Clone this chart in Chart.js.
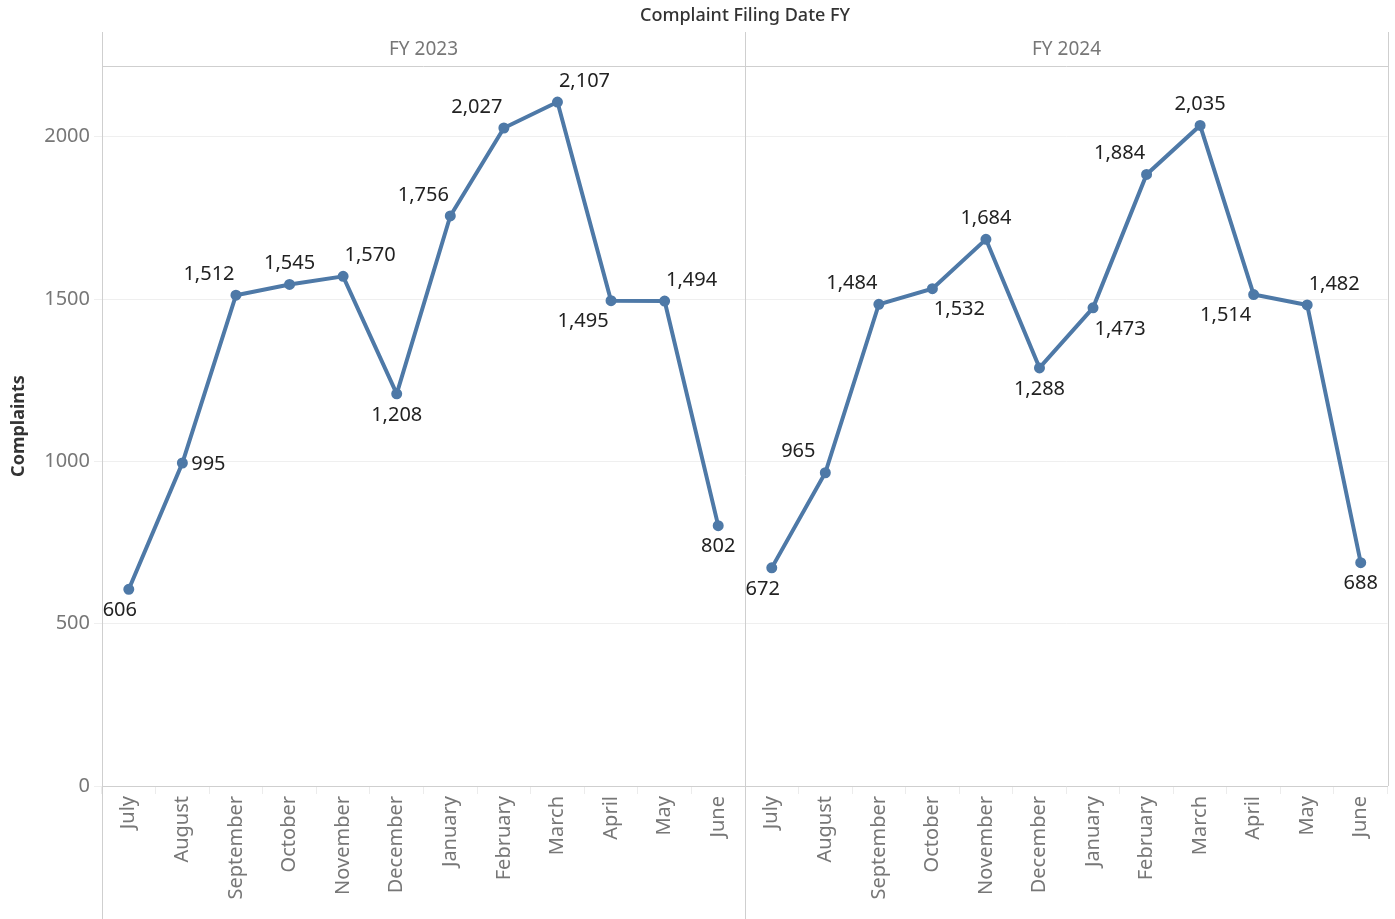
<!DOCTYPE html>
<html>
<head>
<meta charset="utf-8">
<script src="https://cdn.jsdelivr.net/npm/chart.js@4"></script>
<style>
  body { margin: 0; background: #fff; }
  #wrap { position: relative; width: 1395px; height: 919px; }
  canvas { position: absolute; left: 0; top: 0; }
</style>
</head>
<body>
<div id="wrap">
  <canvas id="left" width="1395" height="919"></canvas>
  <canvas id="right" width="1395" height="919"></canvas>
</div>
<script>
// --- data ---
const months = ['July', 'August', 'September', 'October', 'November', 'December',
                'January', 'February', 'March', 'April', 'May', 'June'];
const fy2023 = [606, 995, 1512, 1545, 1570, 1208, 1756, 2027, 2107, 1495, 1494, 802];
const fy2024 = [672, 965, 1484, 1532, 1684, 1288, 1473, 1884, 2035, 1514, 1482, 688];
const panelNames = ['FY 2023', 'FY 2024'];
const yMax = 2218;
const yStep = 500;

// where each value label sits relative to its point
const place2023 = ['bL', 'r', 'al', 'a', 'ar', 'b', 'al', 'al', 'ar', 'bl', 'ar', 'b'];
const place2024 = ['bL', 'al', 'al', 'br', 'a', 'b', 'br', 'al', 'a', 'bl', 'ar', 'b'];

const BLUE = '#4e79a7';
const FONT = '"Noto Sans", "Open Sans", sans-serif';

// layout (pixels)
const PLOT_TOP = 66;
const PLOT_BOTTOM = 786;
const LEFT_X = 102;
const MID_X = 745;
const RIGHT_X = 1388;
const H = 919;

const offsets = {
    a: [0, -21], b: [0, 21], r: [26, 1],
    al: [-27, -21], ar: [27, -21], bl: [-28, 21], br: [27, 21],
    bL: [-9, 21]
};

const valueLabels = {
    id: 'valueLabels',
    afterDatasetsDraw(chart, args, opts) {
        const ctx = chart.ctx;
        const meta = chart.getDatasetMeta(0);
        const values = chart.data.datasets[0].data;
        ctx.save();
        ctx.font = '20px ' + FONT;
        ctx.fillStyle = '#222';
        ctx.textAlign = 'center';
        ctx.textBaseline = 'middle';
        meta.data.forEach((pt, i) => {
            const o = offsets[opts.place[i]] || [0, -21];
            ctx.fillText(values[i].toLocaleString('en-US'), pt.x + o[0], pt.y + o[1]);
        });
        ctx.restore();
    }
};

const frame = {
    id: 'frame',
    afterDraw(chart) {
        const ctx = chart.ctx;
        ctx.save();
        ctx.strokeStyle = '#cfcfcf';
        ctx.lineWidth = 1;
        ctx.beginPath();
        ctx.moveTo(LEFT_X + 0.5, 32); ctx.lineTo(LEFT_X + 0.5, H);
        ctx.moveTo(MID_X + 0.5, 32); ctx.lineTo(MID_X + 0.5, H);
        ctx.moveTo(RIGHT_X + 0.5, 32); ctx.lineTo(RIGHT_X + 0.5, PLOT_BOTTOM);
        ctx.moveTo(LEFT_X, PLOT_TOP + 0.5); ctx.lineTo(RIGHT_X, PLOT_TOP + 0.5);
        ctx.stroke();

        ctx.textAlign = 'center';
        ctx.textBaseline = 'middle';
        ctx.fillStyle = '#333';
        ctx.font = '500 18px ' + FONT;
        ctx.fillText('Complaint Filing Date FY', (LEFT_X + RIGHT_X) / 2, 16);

        ctx.fillStyle = '#777';
        ctx.font = '19px ' + FONT;
        ctx.fillText(panelNames[0], (LEFT_X + MID_X) / 2, 50);
        ctx.fillText(panelNames[1], (MID_X + RIGHT_X) / 2, 50);
        ctx.restore();
    }
};

function makePanel(canvasId, values, place, isFirst) {
    const padLeft = isFirst ? 0 : MID_X;
    const padRight = isFirst ? 1395 - MID_X : 1395 - RIGHT_X;
    return new Chart(document.getElementById(canvasId), {
        type: 'line',
        data: {
            labels: months,
            datasets: [{
                data: values,
                borderColor: BLUE,
                backgroundColor: BLUE,
                borderWidth: 4,
                pointRadius: 3.5,
                pointHoverRadius: 3.5,
                tension: 0
            }]
        },
        options: {
            responsive: false,
            animation: false,
            layout: { padding: { left: padLeft, right: padRight, top: PLOT_TOP, bottom: 0 } },
            plugins: {
                legend: { display: false },
                tooltip: { enabled: false },
                valueLabels: { place: place }
            },
            scales: {
                x: {
                    offset: true,
                    afterFit: s => { s.height = H - PLOT_BOTTOM; },
                    border: { display: true, color: '#cfcfcf' },
                    grid: { display: true, offset: true, drawOnChartArea: false, tickLength: 8, color: '#ececec' },
                    ticks: {
                        minRotation: 90, maxRotation: 90, autoSkip: false, padding: 2,
                        color: '#777', font: { family: FONT, size: 20 }
                    }
                },
                y: {
                    min: 0, max: yMax,
                    afterFit: s => { s.width = isFirst ? LEFT_X : 0; },
                    afterBuildTicks: s => {
                        s.ticks = [];
                        for (let v = 0; v <= yMax; v += yStep) s.ticks.push({ value: v });
                    },
                    border: { display: isFirst, color: '#cfcfcf' },
                    grid: { color: '#efefef', tickLength: isFirst ? 8 : 0, drawTicks: isFirst },
                    ticks: {
                        display: isFirst, padding: 4,
                        color: '#777', font: { family: FONT, size: 20 },
                        callback: v => String(v)
                    },
                    title: {
                        display: isFirst, text: 'Complaints', color: '#333',
                        font: { family: FONT, size: 18, weight: 'bold' },
                        padding: { top: 8, bottom: 0 }
                    }
                }
            }
        },
        plugins: isFirst ? [valueLabels] : [valueLabels, frame]
    });
}

makePanel('left', fy2023, place2023, true);
makePanel('right', fy2024, place2024, false);
</script>
</body>
</html>
